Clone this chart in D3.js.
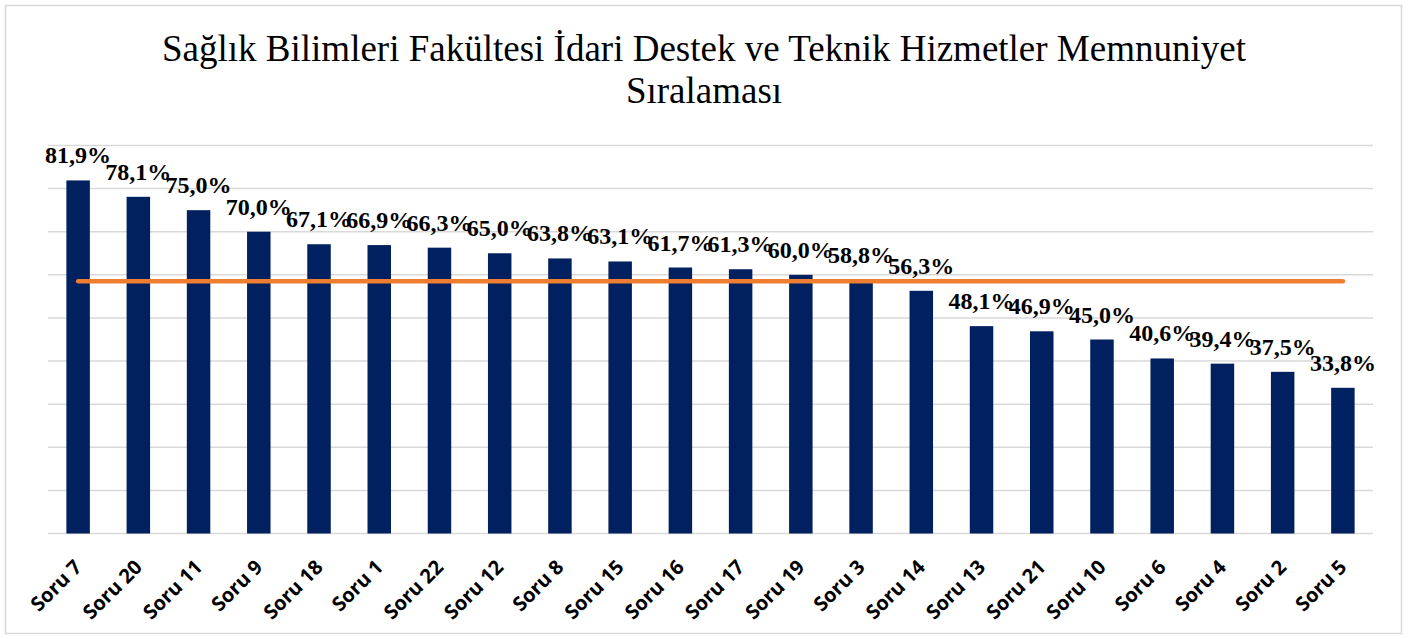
<!DOCTYPE html>
<html>
<head>
<meta charset="utf-8">
<script src="https://cdn.jsdelivr.net/npm/d3@7"></script>
<style>
  body { margin: 0; background: #fff; }
  svg { display: block; }
</style>
</head>
<body>
<svg id="chart"></svg>
<script>
// data
var categories = ["Soru 7", "Soru 20", "Soru 11", "Soru 9", "Soru 18", "Soru 1", "Soru 22",
  "Soru 12", "Soru 8", "Soru 15", "Soru 16", "Soru 17", "Soru 19", "Soru 3", "Soru 14",
  "Soru 13", "Soru 21", "Soru 10", "Soru 6", "Soru 4", "Soru 2", "Soru 5"];
var values = [81.9, 78.1, 75.0, 70.0, 67.1, 66.9, 66.3, 65.0, 63.8, 63.1, 61.7, 61.3,
  60.0, 58.8, 56.3, 48.1, 46.9, 45.0, 40.6, 39.4, 37.5, 33.8];
var average = 58.5;
var yTicks = [0, 10, 20, 30, 40, 50, 60, 70, 80, 90];
var titleLines = ["Sağlık Bilimleri Fakültesi İdari Destek ve Teknik Hizmetler Memnuniyet", "Sıralaması"];

var width = 1408, height = 639;
var plotLeft = 48, plotRight = 1373, plotTop = 145.5, plotBottom = 533.5;

var svg = d3.select("#chart")
    .attr("width", width)
    .attr("height", height);

// outer chart border
svg.append("rect")
    .attr("x", 5.5).attr("y", 5.5)
    .attr("width", 1396).attr("height", 628)
    .attr("fill", "#fff")
    .attr("stroke", "#d9d9d9")
    .attr("stroke-width", 1.5);

var x = d3.scaleBand()
    .domain(categories)
    .range([plotLeft, plotRight])
    .paddingInner(0.61)
    .paddingOuter(0.305);

var y = d3.scaleLinear()
    .domain([0, 90])
    .range([plotBottom, plotTop]);

// gridlines
svg.append("g")
  .selectAll("line")
  .data(yTicks)
  .enter()
  .append("line")
    .attr("x1", plotLeft).attr("x2", plotRight)
    .attr("y1", function(d) { return y(d); })
    .attr("y2", function(d) { return y(d); })
    .attr("stroke", "#d9d9d9")
    .attr("stroke-width", 1.5);

// bars
svg.append("g")
  .selectAll("rect")
  .data(values)
  .enter()
  .append("rect")
    .attr("x", function(d, i) { return x(categories[i]); })
    .attr("y", function(d) { return y(d); })
    .attr("width", x.bandwidth())
    .attr("height", function(d) { return plotBottom - y(d); })
    .attr("fill", "#002060");

// average line
var avgLine = d3.line()
    .x(function(d) { return x(d) + x.bandwidth() / 2; })
    .y(function() { return y(average); });

svg.append("path")
    .datum(categories)
    .attr("d", avgLine)
    .attr("fill", "none")
    .attr("stroke", "#ed7d31")
    .attr("stroke-width", 4.5)
    .attr("stroke-linecap", "round");

// value labels
svg.append("g")
  .selectAll("text")
  .data(values)
  .enter()
  .append("text")
    .attr("x", function(d, i) { return x(categories[i]) + x.bandwidth() / 2; })
    .attr("y", function(d) { return y(d) - 17; })
    .attr("text-anchor", "middle")
    .attr("font-family", "'Liberation Serif', 'Times New Roman', serif")
    .attr("font-weight", "bold")
    .attr("font-size", "24px")
    .attr("fill", "#000")
    .text(function(d) { return d.toFixed(1).replace(".", ",") + "%"; });

// x axis labels
var xAxis = d3.axisBottom(x).tickSize(0);
var gx = svg.append("g")
    .attr("transform", "translate(0," + plotBottom + ")")
    .call(xAxis);
gx.select(".domain").remove();
gx.selectAll("text")
    .attr("font-family", "'Open Sans', sans-serif")
    .attr("font-weight", "bold")
    .attr("font-size", "20px")
    .attr("fill", "#000")
    .attr("text-anchor", "end")
    .attr("x", 0)
    .attr("y", 0)
    .attr("dy", 0)
    .attr("transform", "translate(5,35) rotate(-45)");

// title
svg.append("g")
  .selectAll("text")
  .data(titleLines)
  .enter()
  .append("text")
    .attr("x", 704)
    .attr("y", function(d, i) { return 61 + i * 42; })
    .attr("text-anchor", "middle")
    .attr("font-family", "'Liberation Serif', 'Times New Roman', serif")
    .attr("font-size", "37px")
    .attr("fill", "#000")
    .text(function(d) { return d; });
</script>
</body>
</html>
